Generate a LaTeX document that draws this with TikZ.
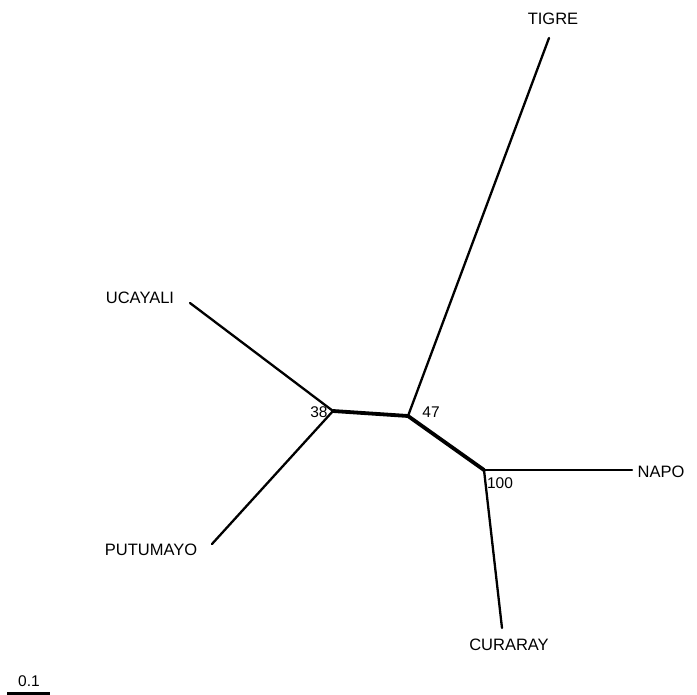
\documentclass[tikz,border=0pt]{standalone}
\usepackage{fontspec}
\setmainfont{Liberation Sans}
\usetikzlibrary{positioning}
\tikzset{
	taxon/.style={font=\fontsize{16.5}{18}\selectfont, inner sep=1pt},
	support/.style={font=\fontsize{15.5}{17}\selectfont, inner sep=1pt},
	branch/.style={line width=2.3pt},
	inner branch/.style={line width=3.8pt}
}
\begin{document}
\begin{tikzpicture}[x=1pt, y=-1pt, line cap=round, line join=round]
		\useasboundingbox (0,0) rectangle (697,695);

		% Internal nodes of the tree
		\coordinate (n38) at (333,411);
		\coordinate (n47) at (408,416);
		\coordinate (n100) at (484,470);

		% Tips of the tree
		\coordinate (tigre) at (549,38);
		\coordinate (ucayali) at (190,303);
		\coordinate (putumayo) at (212,544);
		\coordinate (napo) at (632,470);
		\coordinate (curaray) at (502,628);

		% Draw the inner branches
		\draw[inner branch] (n38) -- (n47);
		\draw[inner branch] (n47) -- (n100);

		% Draw the terminal branches
		\draw[branch] (n47) -- (tigre);
		\draw[branch] (n38) -- (ucayali);
		\draw[branch] (n38) -- (putumayo);
		\draw[branch] (n100) -- (napo);
		\draw[branch] (n100) -- (curaray);

		% Names of the rivers
		\node[taxon] (lTigre) at (553,19) {TIGRE};
		\node[taxon] (lUcayali) at (140,298) {UCAYALI};
		\node[taxon] (lPutumayo) at (151,550) {PUTUMAYO};
		\node[taxon] (lNapo) at (661,472) {NAPO};
		\node[taxon] (lCuraray) at (509,645) {CURARAY};

		% Bootstrap values
		\node[support] (b38) at (319,412) {38};
		\node[support] (b47) at (431,412) {47};
		\node[support] (b100) at (500,483) {100};

		% Scale bar
		\coordinate (sL) at (7,693.5);
		\coordinate (sR) at (50,693.5);
		\draw[line width=3pt, line cap=butt] (sL) -- (sR);
		\node[support] (sText) at (29,681) {0.1};
	\end{tikzpicture}
\end{document}
